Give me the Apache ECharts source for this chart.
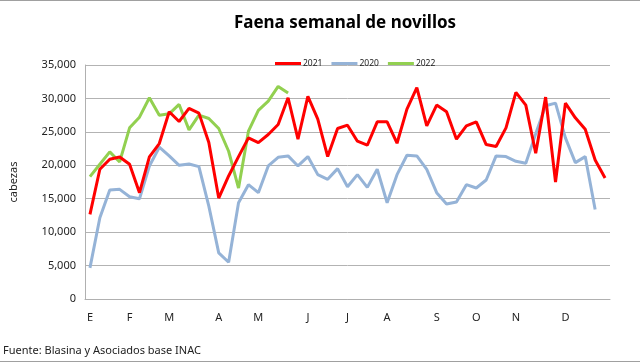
<!DOCTYPE html>
<html>
<head>
<meta charset="utf-8">
<script src="https://cdn.jsdelivr.net/npm/echarts@6/dist/echarts.min.js"></script>
<style>html,body{margin:0;padding:0;background:#fff}#c{width:640px;height:364px}</style>
</head>
<body>
<div id="c"></div>
<script>
var monthTicks = [[0,'E'],[4,'F'],[8,'M'],[13,'A'],[17,'M'],[22,'J'],[26,'J'],[30,'A'],[35,'S'],[39,'O'],[43,'N'],[48,'D']];
var weeks = 53;
var yTicks = [0, 5000, 10000, 15000, 20000, 25000, 30000, 35000];

var s2021 = [12650,19400,20900,21250,20150,15900,21250,23250,28000,26550,
             28500,27800,23400,15100,18400,21300,24100,23400,24600,26100,
             30100,23900,30300,26900,21300,25500,26000,23600,23000,26500,
             26500,23300,28400,31600,25900,29000,28000,23900,25900,26500,
             23100,22800,25600,30900,29000,21800,30200,17500,29300,27100,
             25400,20800,18100];
var s2020 = [4650,12150,16300,16400,15300,15000,19900,22700,21400,20000,
             20200,19800,13900,6900,5500,14400,17100,15900,19900,21200,
             21400,19900,21300,18600,17900,19500,16800,18600,16700,19400,
             14400,18600,21500,21400,19400,15900,14200,14500,17100,16600,
             17800,21400,21300,20600,20300,24700,28900,29300,24100,20400,
             21300,13400,null];
var s2022 = [18300,20150,22000,20500,25600,27200,30100,27500,27700,29100,
             25300,27500,27000,25500,22100,16600,25100,28200,29600,31800,30800];

var categories = [];
for (var i = 0; i < weeks; i++) categories.push('');
monthTicks.forEach(function (t) { categories[t[0]] = t[1]; });

var font = 'Noto Sans';
var chart = echarts.init(document.getElementById('c'), null, {renderer: 'canvas'});
chart.setOption({
  animation: false,
  backgroundColor: '#fff',
  title: {
    text: 'Faena semanal de novillos',
    left: 340, top: 10, textAlign: 'center',
    textStyle: {fontFamily: font, fontSize: 17, fontWeight: 'bold', color: '#000'}
  },
  legend: {
    data: ['2021', '2020', '2022'],
    left: 270, top: 54,
    icon: 'rect', itemWidth: 26, itemHeight: 3, itemGap: 9,
    textStyle: {fontFamily: font, fontSize: 8.5, color: '#222', padding: [0,0,0,-3]}
  },
  grid: {left: 84, right: 30, top: 65, bottom: 65, containLabel: false},
  xAxis: {
    type: 'category', data: categories, boundaryGap: true,
    axisLine: {show: true, lineStyle: {color: '#b0b0b0', width: 1}},
    axisTick: {show: false},
    axisLabel: {interval: 0, margin: 13, fontFamily: font, fontSize: 11, color: '#222'},
    splitLine: {show: false}
  },
  yAxis: {
    type: 'value', min: yTicks[0], max: yTicks[yTicks.length - 1], interval: 5000,
    name: 'cabezas', nameLocation: 'middle', nameGap: 66, nameRotate: 90,
    nameTextStyle: {fontFamily: font, fontSize: 11, color: '#222'},
    axisLine: {show: true, lineStyle: {color: '#b0b0b0', width: 1}},
    axisTick: {show: false},
    axisLabel: {margin: 9, fontFamily: font, fontSize: 11, color: '#222',
      formatter: function (v) { return v.toLocaleString('en-US'); }},
    splitLine: {show: true, lineStyle: {color: '#b3b3b3', width: 1}}
  },
  series: [
    {name: '2021', type: 'line', data: s2021, showSymbol: false, symbol: 'none',
     lineStyle: {color: '#ff0000', width: 3}, itemStyle: {color: '#ff0000'}, z: 4},
    {name: '2020', type: 'line', data: s2020, showSymbol: false, symbol: 'none',
     lineStyle: {color: '#95b3d7', width: 3}, itemStyle: {color: '#95b3d7'}, z: 2},
    {name: '2022', type: 'line', data: s2022, showSymbol: false, symbol: 'none',
     lineStyle: {color: '#92d050', width: 3}, itemStyle: {color: '#92d050'}, z: 3}
  ],
  graphic: [
    {type: 'text', left: 3, top: 345,
     style: {text: 'Fuente: Blasina y Asociados base INAC', fontFamily: font, fontSize: 11, fill: '#222'}},
    {type: 'line', shape: {x1: 0, y1: 0.5, x2: 640, y2: 0.5}, style: {stroke: '#a0a0a0', lineWidth: 1}},
    {type: 'line', shape: {x1: 0, y1: 361.5, x2: 640, y2: 361.5}, style: {stroke: '#a0a0a0', lineWidth: 1}}
  ]
});
</script>
</body>
</html>
